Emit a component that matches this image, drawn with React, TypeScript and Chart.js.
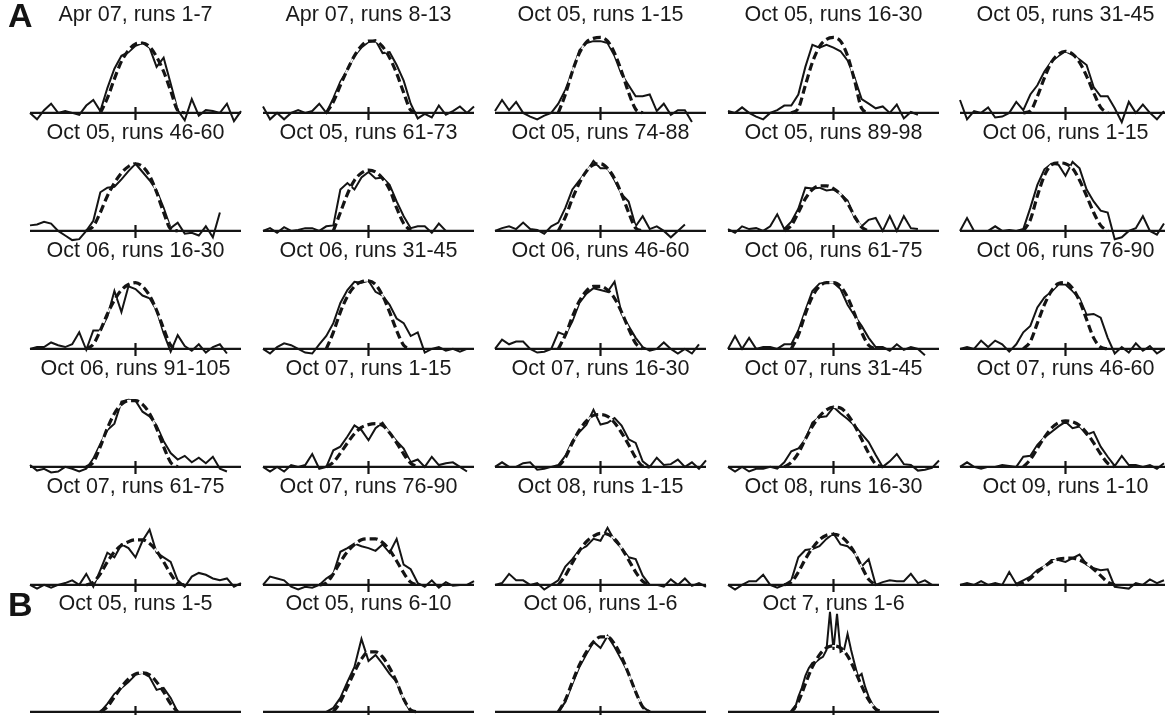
import React, { useEffect, useRef } from "react";
import { Chart, registerables } from "chart.js";
Chart.register(...registerables);

const FONT = '"Liberation Sans", Arimo, Helvetica, Arial, sans-serif';
const INK = "#141414";

// ---------- titles ----------
const titlesA = [
  "Apr 07, runs 1-7", "Apr 07, runs 8-13", "Oct 05, runs 1-15", "Oct 05, runs 16-30", "Oct 05, runs 31-45",
  "Oct 05, runs 46-60", "Oct 05, runs 61-73", "Oct 05, runs 74-88", "Oct 05, runs 89-98", "Oct 06, runs 1-15",
  "Oct 06, runs 16-30", "Oct 06, runs 31-45", "Oct 06, runs 46-60", "Oct 06, runs 61-75", "Oct 06, runs 76-90",
  "Oct 06, runs 91-105", "Oct 07, runs 1-15", "Oct 07, runs 16-30", "Oct 07, runs 31-45", "Oct 07, runs 46-60",
  "Oct 07, runs 61-75", "Oct 07, runs 76-90", "Oct 08, runs 1-15", "Oct 08, runs 16-30", "Oct 09, runs 1-10",
];
const titlesB = ["Oct 05, runs 1-5", "Oct 05, runs 6-10", "Oct 06, runs 1-6", "Oct 7, runs 1-6"];

// ---------- panel A data (measured curve, fitted curve) ----------
const solid01 = [0,-7,3,10,0, 2,0,-2,8,14, 2,27,48,62,66, 73,76,71,50,60, 32,3,-8,15,-3, 3,2,0,10,-9, 2];
const fit01 = [0,0,0,0,0, 0,0,0,0,0, 0,16,37,56,68, 75,76,72,61,45, 24,3,0,0,0, 0,0,0,0,0, 0];
const solid02 = [7,-7,0,-7,0, 3,0,2,10,0, 16,34,47,62,71, 77,79,65,66,52, 35,10,-6,-1,-5, 8,-2,2,7,0, 7];
const fit02 = [0,0,0,0,0, 0,0,0,0,0, 12,30,47,62,73, 78,78,72,60,43, 22,3,0,0,0, 0,0,0,0,0, 0];
const solid03 = [2,14,3,12,0, -4,-7,-3,0,10, 25,45,68,76,78, 78,76,62,42,30, 18,18,20,2,10, -2,3,3,-10,null,null];
const fit03 = [0,0,0,0,0, 0,0,0,0,0, 20,45,65,77,81, 82,78,65,45,22, 4,0,0,0,0, 0,0,0,0,0, 0];
const solid04 = [2,0,6,0,-4, -7,0,3,8,8, 20,50,74,71,74, 71,67,57,38,15, 10,5,7,0,9, -6,1,-2,null,null,null];
const fit04 = [0,0,0,0,0, 0,0,0,0,0, 5,30,55,72,80, 82,78,62,35,5, 0,0,0,0,0, 0,0,0,0,0, 0];
const solid05 = [14,-7,2,0,6, -5,-4,0,12,3, 20,30,45,56,62, 67,63,58,52,28, 18,18,5,-10,12, 0,9,0,-7,2, null];
const fit05 = [0,0,0,0,0, 0,0,0,0,0, 2,18,38,55,64, 67,64,55,40,22, 6,0,0,0,0, 0,0,0,0,0, 0];
const solid06 = [6,7,10,8,0, -5,-10,-9,0,11, 42,47,48,56,65, 73,64,55,44,25, 3,9,-3,-2,-5, 5,-7,20,null,null,null];
const fit06 = [0,0,0,0,0, 0,0,0,0,5, 20,38,52,63,70, 73,70,60,42,20, 2,0,0,0,0, 0,0,0,0,0, 0];
const solid07 = [0,3,-2,4,0, 1,3,3,0,5, 6,45,52,45,58, 64,57,58,50,32, 16,3,5,5,-2, 8,0,null,null,null,null];
const fit07 = [0,0,0,0,0, 0,0,0,0,0, 0,20,40,55,63, 66,64,57,45,25, 8,0,0,0,0, 0,0,0,0,0, 0];
const solid08 = [0,3,5,2,9, 2,1,-3,5,9, 25,45,55,64,76, 68,68,55,40,32, 5,16,2,5,0, -7,0,7,null,null,null];
const fit08 = [0,0,0,0,0, 0,0,0,0,0, 15,35,52,65,72, 73,68,57,40,20, 3,0,0,0,0, 0,0,0,0,0, 0];
const solid09 = [2,-2,5,2,3, 0,5,18,2,10, 24,47,46,47,44, 45,40,33,14,5, 12,14,0,16,0, 16,3,2,null,null,null];
const fit09 = [0,0,0,0,0, 0,0,0,0,6, 20,35,45,49,49, 46,40,30,16,4, 0,0,0,0,0, 0,0,0,0,0, 0];
const solid10 = [0,14,0,0,0, 5,0,1,0,2, 25,50,67,73,72, 60,75,68,45,32, 22,20,-9,-7,0, 3,16,0,-4,8, null];
const fit10 = [0,0,0,0,0, 0,0,0,0,0, 12,38,60,72,74, 73,68,55,38,20, 6,0,0,0,0, 0,0,0,0,0, 0];
const solid11 = [0,2,2,7,4, 2,5,18,-1,20, 20,35,63,40,68, 65,58,55,42,17, -3,15,3,-2,5, -4,2,5,-5,null,null];
const fit11 = [0,0,0,0,0, 0,0,0,0,5, 20,38,53,64,70, 72,68,58,42,22, 4,0,0,0,0, 0,0,0,0,0, 0];
const solid12 = [0,-5,2,6,4, 0,-4,-5,5,14, 28,50,64,73,72, 74,62,58,48,33, 28,14,18,-4,0, 2,-2,0,-3,0, null];
const fit12 = [0,0,0,0,0, 0,0,0,0,0, 18,40,57,68,73, 74,70,58,40,20, 4,0,0,0,0, 0,0,0,0,0, 0];
const solid13 = [0,10,5,8,8, 0,-4,-3,0,18, 15,30,50,60,66, 64,62,73,38,25, 12,2,-2,0,7, 0,-5,0,-5,5, null];
const fit13 = [0,0,0,0,0, 0,0,0,0,0, 15,35,52,63,68, 68,64,55,40,22, 6,0,0,0,0, 0,0,0,0,0, 0];
const solid14 = [0,14,0,12,0, 2,2,0,5,5, 20,42,63,71,72, 72,65,48,36,25, 12,2,2,-2,5, -1,2,0,-7,null,null];
const fit14 = [0,0,0,0,0, 0,0,0,0,0, 15,38,57,68,72, 72,68,56,38,18, 4,0,0,0,0, 0,0,0,0,0, 0];
const solid15 = [0,2,0,9,2, 9,5,-3,5,18, 25,45,56,62,70, 70,63,55,37,38, 34,12,-5,2,-4, 6,-2,3,-5,0, null];
const fit15 = [0,0,0,0,0, 0,0,0,0,0, 8,28,48,63,71, 72,66,52,32,12, 2,0,0,0,0, 0,0,0,0,0, 0];
const solid16 = [2,-4,-2,-6,-5, 0,-2,-5,-2,9, 25,40,47,71,73, 72,60,55,45,28, 15,8,12,5,10, 4,11,-2,-5,null,null];
const fit16 = [0,0,0,0,0, 0,0,0,0,5, 22,42,58,68,72, 72,68,58,42,22, 5,0,0,0,0, 0,0,0,0,0, 0];
const solid17 = [0,-5,0,-5,2, 0,2,14,-2,0, 18,22,33,45,40, 29,42,48,37,28, 20,5,8,0,11, 2,4,5,0,-5, null];
const fit17 = [0,0,0,0,0, 0,0,0,0,0, 5,15,26,36,43, 46,47,45,37,26, 14,4,0,0,0, 0,0,0,0,0, 0];
const solid18 = [0,5,0,0,4, 5,-3,-2,0,2, 12,28,38,46,62, 46,48,53,45,30, 26,6,0,10,2, 3,8,0,5,-2, 7];
const fit18 = [0,0,0,0,0, 0,0,0,0,0, 10,26,40,50,56, 57,55,48,37,24, 10,1,0,0,0, 0,0,0,0,0, 0];
const solid19 = [0,-5,0,-5,-2, -2,0,-2,5,17, 20,30,48,54,55, 65,58,52,45,36, 27,13,0,6,14, 3,2,-4,-3,-1, 7];
const fit19 = [0,0,0,0,0, 0,0,0,0,5, 15,30,44,55,62, 65,64,57,45,30, 15,3,0,0,0, 0,0,0,0,0, 0];
const solid20 = [0,5,0,-2,0, 0,2,1,0,11, 12,24,32,38,44, 49,42,44,35,38, 22,11,1,12,2, 2,0,2,-2,4, null];
const fit20 = [0,0,0,0,0, 0,0,0,0,0, 8,20,32,42,48, 50,49,45,37,26, 14,4,0,0,0, 0,0,0,0,0, 0];
const solid21 = [0,-4,0,-3,0, 2,5,0,12,-2, 16,35,30,44,40, 30,48,60,35,30, 25,5,-2,9,13, 11,7,5,7,-2, 2];
const fit21 = [0,0,0,0,0, 0,0,0,0,3, 12,25,36,43,47, 49,49,45,37,25, 12,2,0,0,0, 0,0,0,0,0, 0];
const solid22 = [0,9,7,5,-2, -5,-2,-3,0,7, 12,36,40,45,42, 40,37,44,35,50, 22,17,2,-2,5, -3,3,-1,0,0, 4];
const fit22 = [0,0,0,0,0, 0,0,0,0,2, 12,25,36,44,49, 50,50,46,38,26, 13,3,0,0,0, 0,0,0,0,0, 0];
const solid23 = [0,2,12,5,5, 0,2,-5,0,5, 20,28,38,42,50, 48,62,48,40,30, 28,10,0,0,-2, 6,0,7,-1,2, -2];
const fit23 = [0,0,0,0,0, 0,0,0,0,0, 10,24,37,47,53, 56,55,50,40,27, 14,4,0,0,0, 0,0,0,0,0, 0];
const solid24 = [0,-5,0,4,4, 11,0,-3,0,5, 30,38,39,42,50, 56,44,42,35,20, 28,0,3,5,4, 4,12,2,5,0, 0];
const fit24 = [0,0,0,0,0, 0,0,0,0,3, 14,28,40,49,54, 55,53,46,35,20, 6,0,0,0,0, 0,0,0,0,0, 0];
const solid25 = [0,2,0,4,0, 2,0,14,1,5, 9,16,20,27,27, 25,29,33,22,18, 16,17,-2,-3,-4, 2,0,6,2,5, null];
const fit25 = [0,0,0,0,0, 0,0,0,0,2, 7,14,20,25,28, 29,29,27,23,17, 10,3,0,0,0, 0,0,0,0,0, 0];

// ---------- panel B data ----------
const solidB1 = [0,0,0,0,0, 0,0,0,0,0, 0,8,18,24,30, 37,39,35,22,24, 14,0,0,0,0, 0,0,0,0,0, 0];
const fitB1 = [0,0,0,0,0, 0,0,0,0,0, 0,5,15,25,33, 38,39,37,30,20, 8,0,0,0,0, 0,0,0,0,0, 0];
const solidB2 = [0,0,0,0,0, 0,0,0,0,0, 4,14,30,45,73, 51,57,48,38,30, 12,0,0,0,0, 0,0,0,0,0, 0];
const fitB2 = [0,0,0,0,0, 0,0,0,0,0, 0,10,25,40,53, 60,60,55,44,30, 13,2,0,0,0, 0,0,0,0,0, 0];
const solidB3 = [0,0,0,0,0, 0,0,0,0,0, 10,28,45,58,70, 64,76,65,52,38, 20,5,0,0,0, 0,0,0,0,0, 0];
const fitB3 = [0,0,0,0,0, 0,0,0,0,0, 12,30,47,60,70, 75,75,68,55,38, 20,5,0,0,0, 0,0,0,0,0, 0];
const solidB4 = [
  0,0,0,0,0, 0,0,0,0,0, 0,0,0,0,0, 0,0,0,0,3,
  15,24,36,44,49, 50,53,55,62,100, 62,98,60,62,78, 62,48,35,38,25,
  15,8,2,0,0, 0,0,0,0,0, 0,0,0,0,0, 0,0,0,0,0, 0,
];
const fitB4 = [0,0,0,0,0, 0,0,0,0,0, 10,28,45,57,64, 66,64,56,42,26, 12,3,0,0,0, 0,0,0,0,0, 0];

const solidsA = [solid01, solid02, solid03, solid04, solid05, solid06, solid07, solid08, solid09, solid10,
  solid11, solid12, solid13, solid14, solid15, solid16, solid17, solid18, solid19, solid20,
  solid21, solid22, solid23, solid24, solid25];
const fitsA = [fit01, fit02, fit03, fit04, fit05, fit06, fit07, fit08, fit09, fit10,
  fit11, fit12, fit13, fit14, fit15, fit16, fit17, fit18, fit19, fit20,
  fit21, fit22, fit23, fit24, fit25];
const solidsB = [solidB1, solidB2, solidB3, solidB4];
const fitsB = [fitB1, fitB2, fitB3, fitB4];

const X_MAX = 30;

// ---------- layout ----------
const PANEL_W = 233;
const PAD_L = 12;
const PAD_R = 10;
const COL_STEP = 232.5;
const COL0 = 18;
const TITLE_SIZE = 21.5;
const TITLE_PAD_TOP = 2;
const TITLE_PAD_BOTTOM = 6;
const TITLE_CENTER = TITLE_PAD_TOP + (TITLE_SIZE * 1.2) / 2;
const CHART_TOP = TITLE_PAD_TOP + TITLE_SIZE * 1.2 + TITLE_PAD_BOTTOM;

const axisPlugin = {
  id: "zeroAxis",
  beforeDatasetsDraw(chart: any) {
    const { ctx, scales } = chart;
    const x = scales.x;
    const y = scales.y;
    const y0 = y.getPixelForValue(0);
    const xa = x.getPixelForValue(0);
    const xb = x.getPixelForValue(X_MAX);
    const xc = x.getPixelForValue(X_MAX / 2);
    ctx.save();
    ctx.strokeStyle = INK;
    ctx.lineWidth = 2.2;
    ctx.beginPath();
    ctx.moveTo(xa, y0);
    ctx.lineTo(xb, y0);
    ctx.moveTo(xc, y0 - 6);
    ctx.lineTo(xc, y0 + 7);
    ctx.stroke();
    ctx.restore();
  },
};

type PanelProps = {
  title: string;
  solid: (number | null)[];
  fit: number[];
  left: number;
  titleY: number;
  gap: number;
  height: number;
  pxPerUnit: number;
};

function Panel({ title, solid, fit, left, titleY, gap, height, pxPerUnit }: PanelProps) {
  const ref = useRef<HTMLCanvasElement>(null);
  useEffect(() => {
    const axisY = TITLE_CENTER + gap;
    const yMax = (axisY - CHART_TOP) / pxPerUnit;
    const yMin = yMax - (height - CHART_TOP) / pxPerUnit;
    const solidPts = solid.map((v, i) => ({ x: (i * X_MAX) / (solid.length - 1), y: v }));
    const first = fit.findIndex((v) => v !== 0);
    let last = fit.length - 1;
    while (last > 0 && fit[last] === 0) last--;
    const fitPts = fit.map((v, i) => ({
      x: (i * X_MAX) / (fit.length - 1),
      y: i < first - 1 || i > last + 1 ? null : v,
    }));
    const fitCore = fit.map((v, i) => ({
      x: (i * X_MAX) / (fit.length - 1),
      y: i < first || i > last ? null : v,
    }));
    const chart = new Chart(ref.current as HTMLCanvasElement, {
      type: "line",
      data: {
        datasets: [
          {
            data: solidPts as any,
            borderColor: INK,
            borderWidth: 2,
            pointRadius: 0,
            tension: 0,
            clip: false as any,
            order: 3,
          },
          {
            data: fitCore as any,
            borderColor: "#ffffff",
            borderWidth: 1.6,
            pointRadius: 0,
            cubicInterpolationMode: "monotone",
            clip: false as any,
            order: 2,
          },
          {
            data: fitPts as any,
            borderColor: INK,
            borderWidth: 3.2,
            borderDash: [8, 4],
            pointRadius: 0,
            cubicInterpolationMode: "monotone",
            clip: false as any,
            order: 1,
          },
        ],
      },
      options: {
        animation: false,
        responsive: false,
        events: [],
        layout: { padding: { left: PAD_L, right: PAD_R, top: 0, bottom: 0 } },
        scales: {
          x: { type: "linear", min: 0, max: X_MAX, display: false },
          y: { type: "linear", min: yMin, max: yMax, display: false },
        },
        plugins: {
          legend: { display: false },
          tooltip: { enabled: false },
          title: {
            display: true,
            text: title,
            color: "#1a1a1a",
            font: { family: FONT, size: TITLE_SIZE, weight: "normal" as any },
            padding: { top: TITLE_PAD_TOP, bottom: TITLE_PAD_BOTTOM },
          },
        },
      },
      plugins: [axisPlugin],
    });
    return () => chart.destroy();
  }, []);
  return (
    <canvas
      ref={ref}
      width={PANEL_W}
      height={height}
      style={{ position: "absolute", left, top: titleY - TITLE_CENTER, width: PANEL_W, height }}
    />
  );
}

export default function App() {
  useEffect(() => {
    document.body.style.margin = "0";
    document.body.style.background = "#ffffff";
  }, []);
  const panels: any[] = [];
  titlesA.forEach((t, k) => {
    const r = Math.floor(k / 5);
    const c = k % 5;
    panels.push(
      <Panel key={"a" + k} title={t} solid={solidsA[k]} fit={fitsA[k]}
        left={COL0 + COL_STEP * c} titleY={15 + 118 * r} gap={98} height={128} pxPerUnit={0.92} />
    );
  });
  titlesB.forEach((t, k) => {
    panels.push(
      <Panel key={"b" + k} title={t} solid={solidsB[k]} fit={fitsB[k]}
        left={COL0 + COL_STEP * k} titleY={604} gap={108} height={126} pxPerUnit={1} />
    );
  });
  const letter: React.CSSProperties = {
    position: "absolute", left: 8, fontFamily: FONT, fontWeight: "bold", fontSize: 34,
    color: "#141414", lineHeight: "34px",
  };
  return (
    <div style={{ position: "relative", width: 1165, height: 715, overflow: "hidden", background: "#fff" }}>
      {panels}
      <div style={{ ...letter, top: -2 }}>A</div>
      <div style={{ ...letter, top: 587 }}>B</div>
    </div>
  );
}
